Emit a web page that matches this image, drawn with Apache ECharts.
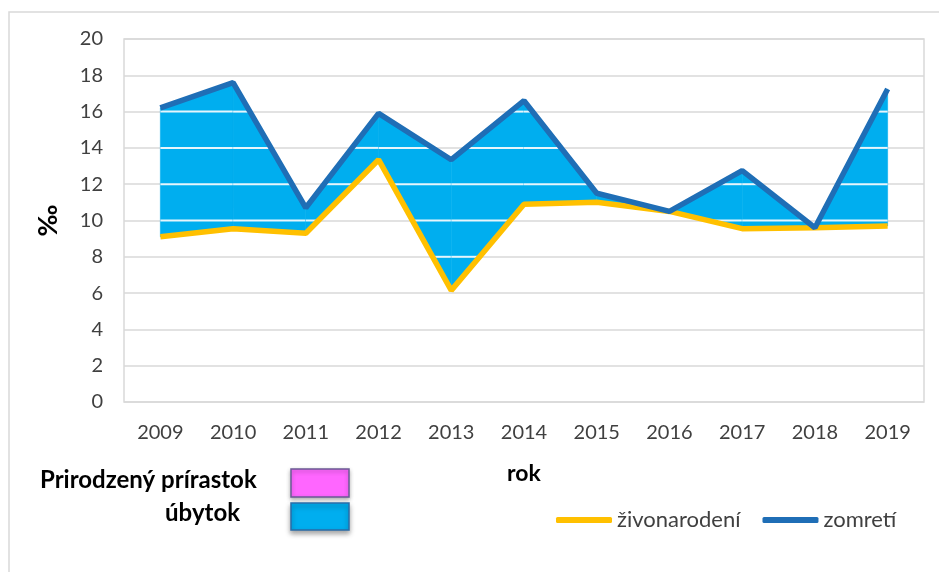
<!DOCTYPE html>
<html>
<head>
<meta charset="utf-8">
<script src="https://cdn.jsdelivr.net/npm/echarts@6/dist/echarts.min.js"></script>
<style>html,body{margin:0;padding:0;background:#fff}#c{width:939px;height:572px}</style>
</head>
<body>
<div id="c"></div>
<script>
const years = ['2009','2010','2011','2012','2013','2014','2015','2016','2017','2018','2019'];
const zivonarodeni = [9.1, 9.55, 9.3, 13.35, 6.15, 10.9, 11.0, 10.5, 9.55, 9.6, 9.7];
const zomreti = [16.2, 17.6, 10.7, 15.9, 13.35, 16.6, 11.5, 10.5, 12.75, 9.6, 17.25];
const yTicks = [0, 2, 4, 6, 8, 10, 12, 14, 16, 18, 20];

const FONT = 'Lato';
const segData = [];
for (let i = 0; i < years.length - 1; i++) {
  segData.push([i, zomreti[i], zivonarodeni[i], zomreti[i + 1], zivonarodeni[i + 1]]);
}

function posInterval(f0, f1) {
  if (f0 >= 0 && f1 >= 0) return [0, 1];
  if (f0 < 0 && f1 < 0) return null;
  const r = f0 / (f0 - f1);
  return f0 >= 0 ? [0, r] : [r, 1];
}

function renderFill(params, api) {
  const i = api.value(0);
  const a0 = api.value(1), b0 = api.value(2), a1 = api.value(3), b1 = api.value(4);
  const pA0 = api.coord([i, a0]), pA1 = api.coord([i + 1, a1]);
  const pB0 = api.coord([i, b0]), pB1 = api.coord([i + 1, b1]);
  const children = [{
    type: 'polygon',
    shape: { points: [pA0, pA1, pB1, pB0] },
    style: { fill: '#00AEEF', stroke: '#00AEEF', lineWidth: 0.6 }
  }];
  const x0 = pA0[0], x1 = pA1[0];
  yTicks.forEach(v => {
    const ia = posInterval(a0 - v, a1 - v);
    const ib = posInterval(v - b0, v - b1);
    if (!ia || !ib) return;
    const t0 = Math.max(ia[0], ib[0]), t1 = Math.min(ia[1], ib[1]);
    if (t1 - t0 < 0.01) return;
    const y = api.coord([i, v])[1];
    children.push({
      type: 'line',
      shape: { x1: x0 + (x1 - x0) * t0, y1: y, x2: x0 + (x1 - x0) * t1, y2: y },
      style: { stroke: '#E6F5FC', lineWidth: 2 }
    });
  });
  return { type: 'group', children };
}

const chart = echarts.init(document.getElementById('c'), null, { renderer: 'canvas' });
chart.setOption({
  animation: false,
  backgroundColor: '#fff',
  textStyle: { fontFamily: FONT },
  grid: { left: 124, top: 39, right: 15, bottom: 170, show: true, borderColor: '#D9D9D9', borderWidth: 1.5 },
  xAxis: {
    type: 'category',
    data: years,
    boundaryGap: true,
    axisLine: { show: false },
    axisTick: { show: false },
    axisLabel: { color: '#404040', fontSize: 20, fontFamily: FONT, margin: 21 },
    name: 'rok',
    nameLocation: 'middle',
    nameGap: 60,
    nameTextStyle: { color: '#000', fontSize: 23, fontWeight: 'bold', fontFamily: FONT }
  },
  yAxis: {
    type: 'value',
    min: 0, max: 20, interval: 2,
    axisLine: { show: false },
    axisTick: { show: false },
    splitLine: { lineStyle: { color: '#D9D9D9', width: 1.5 } },
    axisLabel: { color: '#404040', fontSize: 20, fontFamily: FONT, margin: 21 },
    name: '‰',
    nameLocation: 'middle',
    nameRotate: 90,
    nameGap: 62,
    nameTextStyle: { color: '#000', fontSize: 27, fontWeight: 'bold', fontFamily: FONT }
  },
  legend: {
    left: 551,
    top: 504,
    itemGap: 22,
    itemWidth: 56,
    itemHeight: 6,
    icon: 'roundRect',
    textStyle: { color: '#404040', fontSize: 22, fontFamily: FONT },
    data: ['živonarodení', 'zomretí']
  },
  series: [
    {
      type: 'custom',
      name: 'fill',
      renderItem: renderFill,
      data: segData,
      z: 1,
      silent: true,
      encode: { x: 0, y: [1, 2, 3, 4] }
    },
    {
      type: 'line',
      name: 'živonarodení',
      data: zivonarodeni,
      symbol: 'none',
      lineStyle: { color: '#FFC000', width: 5.5 },
      itemStyle: { color: '#FFC000' },
      z: 3
    },
    {
      type: 'line',
      name: 'zomretí',
      data: zomreti,
      symbol: 'none',
      lineStyle: { color: '#1F6EB6', width: 5.5 },
      itemStyle: { color: '#1F6EB6' },
      z: 4
    }
  ],
  graphic: [
    { type: 'rect', shape: { x: 9, y: 12, width: 960, height: 600 }, style: { fill: 'none', stroke: '#D9D9D9', lineWidth: 1.5 }, z: -1 },
    { type: 'text', left: 40, top: 468, style: { text: 'Prirodzený prírastok', font: 'bold 24px ' + FONT, fill: '#000' } },
    { type: 'text', right: 939 - 240, top: 501, style: { text: 'úbytok', font: 'bold 24px ' + FONT, fill: '#000' } },
    { type: 'rect', shape: { x: 291, y: 469, width: 58, height: 28 }, style: { fill: '#FF66FF', stroke: '#6B5B95', lineWidth: 1.5, shadowBlur: 4, shadowOffsetY: 2, shadowColor: 'rgba(0,0,0,0.3)' } },
    { type: 'rect', shape: { x: 291, y: 503, width: 58, height: 27 }, style: { fill: '#00AEEF', stroke: '#2A6CA8', lineWidth: 1.5, shadowBlur: 5, shadowOffsetY: 3, shadowColor: 'rgba(0,0,0,0.35)' } }
  ]
});
</script>
</body>
</html>
